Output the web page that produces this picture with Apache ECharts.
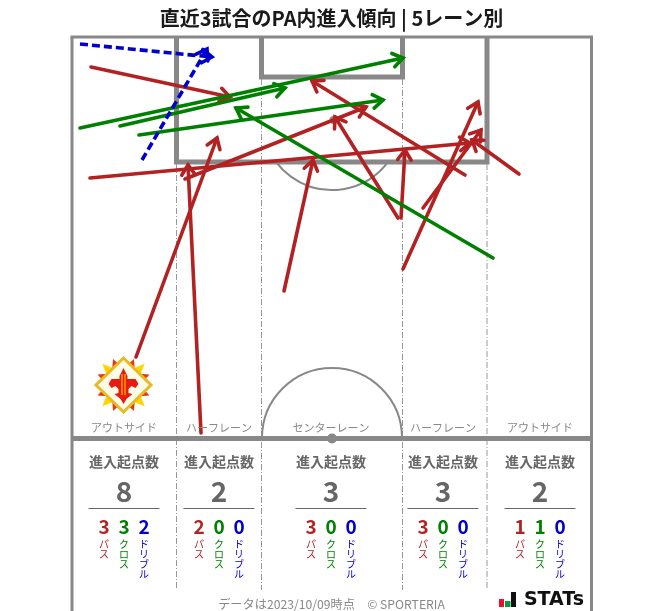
<!DOCTYPE html>
<html><head><meta charset="utf-8">
<style>html,body{margin:0;padding:0;background:#fff}#c{width:663px;height:611px}</style>
<script src="https://cdn.jsdelivr.net/npm/echarts@6/dist/echarts.min.js"></script>
</head><body><div id="c"></div>
<script>
const titleText = '直近3試合のPA内進入傾向 | 5レーン別';
const laneNames = ['アウトサイド','ハーフレーン','センターレーン','ハーフレーン','アウトサイド'];
const laneCentres = [124,219,331,443,540];
const startTotals = [8,2,3,3,2];
const passCounts = [3,2,3,3,1];
const crossCounts = [3,0,0,0,1];
const dribbleCounts = [2,0,0,0,0];
const typeNames = ['パス','クロス','ドリブル'];
// arrows: [startX, startY, endX, endY] on the pitch picture scale
const passArrows = [
 [91,67,230,97],[90,178,470,143],[136,357,217,138],[201,433,188,165],
 [185,179,366,107],[284,291,313,160],[398,218,335,117],[401,218,405,150],
 [403,269,478,102],[423,208,481,130],[519,174,472,140],[465,175,312,81]
];
const crossArrows = [[80,128,403,58],[120,126,285,88],[139,135,383,100],[493,258,236,108]];
const dribbleArrows = [[80,44,212,57],[142,160,207,49]];

const RED='#b22222', GREEN='#008000', BLUE='#0000cd', GREY='#888888', TXT='#666666';

function arrowSeries(data,color,dash){
  return {
    type:'custom', coordinateSystem:'cartesian2d', data:data, silent:true, clip:false,
    encode:{x:[0,2],y:[1,3]},
    renderItem(params,api){
      const a=api.coord([api.value(0),api.value(1)]);
      const b=api.coord([api.value(2),api.value(3)]);
      const ang=Math.atan2(b[1]-a[1],b[0]-a[0]);
      const L=12, W=0.6;
      const p1=[b[0]-L*Math.cos(ang-W),b[1]-L*Math.sin(ang-W)];
      const p2=[b[0]-L*Math.cos(ang+W),b[1]-L*Math.sin(ang+W)];
      return {type:'group',children:[
        {type:'line',shape:{x1:a[0],y1:a[1],x2:b[0],y2:b[1]},
         style:{stroke:color,lineWidth:3.6,lineCap:dash?'butt':'round',lineDash:dash||null}},
        {type:'polyline',shape:{points:[p1,b,p2]},
         style:{stroke:color,lineWidth:3.6,fill:null,lineCap:'round',lineJoin:'miter'}}
      ]};
    }
  };
}

const g=[];
const line=(x1,y1,x2,y2,w,c,dash)=>g.push({type:'line',z:1,shape:{x1,y1,x2,y2},style:{stroke:c||GREY,lineWidth:w,lineDash:dash||null}});
const text=(t,x,y,font,fill,extra)=>g.push({type:'text',z:3,style:Object.assign({text:t,x,y,font,fill,align:'center',verticalAlign:'middle'},extra||{})});
const JP='"Noto Sans CJK JP"';

// pitch frame
line(72,611,72,37,3); line(591.5,611,591.5,37,3); line(70.5,37,593,37,3);
// penalty area & goal area
g.push({type:'polyline',z:1,shape:{points:[[176.5,37],[176.5,162],[487,162],[487,37]]},style:{stroke:GREY,lineWidth:5,fill:null}});
g.push({type:'polyline',z:1,shape:{points:[[261.5,37],[261.5,77],[402.5,77],[402.5,37]]},style:{stroke:GREY,lineWidth:5,fill:null}});
// lane separators
[[176.5,164],[261.5,79],[402.5,79],[487,164]].forEach(p=>line(p[0],p[1],p[0],590,1,'#999999',[6,2,1,2]));
// arcs, halfway, spots
g.push({type:'arc',z:1,shape:{cx:332,cy:438,r:70,startAngle:Math.PI,endAngle:2*Math.PI},style:{stroke:GREY,lineWidth:2,fill:null}});
g.push({type:'arc',z:1,shape:{cx:332,cy:120,r:70,startAngle:Math.PI*0.2,endAngle:Math.PI*0.8},style:{stroke:GREY,lineWidth:2,fill:null}});
line(72,438.5,591,438.5,5);
g.push({type:'circle',z:2,shape:{cx:332,cy:438.5,r:5},style:{fill:GREY}});
g.push({type:'circle',z:2,shape:{cx:333.5,cy:120,r:4},style:{fill:GREY}});

// lane panels
laneCentres.forEach((cx,i)=>{
  text(laneNames[i],cx,428,'11px '+JP,'#888888');
  text('進入起点数',cx,462,'bold 14px '+JP,TXT);
  text(String(startTotals[i]),cx,491.5,'bold 28px '+JP,TXT);
  line(cx-35.5,508.5,cx+35.5,508.5,1,TXT);
  const vals=[passCounts[i],crossCounts[i],dribbleCounts[i]];
  const cols=[RED,GREEN,BLUE];
  vals.forEach((v,k)=>{
    const x=cx+(k-1)*20;
    text(String(v),x,527,'bold 19px '+JP,cols[k]);
    text(typeNames[k].split('').join('\n'),x,539,'10px '+JP,cols[k],{verticalAlign:'top',lineHeight:10});
  });
});

// footer
text('データは2023/10/09時点　© SPORTERIA',331.5,604,'12.2px '+JP,'#888888');
g.push({type:'rect',z:3,shape:{x:499,y:599,width:5,height:8},style:{fill:'#e8112d'}});
g.push({type:'rect',z:3,shape:{x:505,y:601,width:5.5,height:6},style:{fill:'#00a040'}});
g.push({type:'rect',z:3,shape:{x:511,y:592,width:5,height:15},style:{fill:'#111111'}});
text('STATs',554,600,'bold 19px "DejaVu Sans"','#111111');

// emblem
(function(){
  const cx=123.5,cy=385;
  const spike=(deg,R,col)=>{
    const a=deg*Math.PI/180,d=0.36,r=17;
    g.push({type:'polygon',z:4,shape:{points:[
      [cx+r*Math.cos(a-d),cy+r*Math.sin(a-d)],
      [cx+R*Math.cos(a),cy+R*Math.sin(a)],
      [cx+r*Math.cos(a+d),cy+r*Math.sin(a+d)]]},style:{fill:col}});
  };
  [45,135,225,315].forEach(d=>spike(d,30,'#ffd500'));
  [22,68,112,158,202,248,292,338].forEach(d=>spike(d,28,'#e8380d'));
  [5,85,95,175,185,265,275,355].forEach(d=>spike(d,27,'#ffc400'));
  g.push({type:'polygon',z:5,shape:{points:[[cx,cy-27],[cx+27.5,cy],[cx,cy+27],[cx-27.5,cy]]},style:{fill:'#fffde8',stroke:'#e8b923',lineWidth:3}});
  const body=[[0,-17],[4,-9],[4,-6],[12,-6],[15,-1],[12,3],[8,1],[5,4],[5,8],[9,9],[3,14],[0,19],[-3,14],[-9,9],[-5,8],[-5,4],[-8,1],[-12,3],[-15,-1],[-12,-6],[-4,-6],[-4,-9]];
  g.push({type:'polygon',z:6,shape:{points:body.map(p=>[cx+p[0],cy+p[1]])},style:{fill:'#e51c12'}});
  g.push({type:'rect',z:7,shape:{x:cx-2,y:cy-11,width:1,height:21},style:{fill:'#ffd500'}});
  g.push({type:'rect',z:7,shape:{x:cx+1,y:cy-11,width:1,height:21},style:{fill:'#ffd500'}});
})();

const chart=echarts.init(document.getElementById('c'),null,{renderer:'canvas'});
chart.setOption({
  animation:false,
  backgroundColor:'#fff',
  title:{text:titleText,left:'center',top:3,textStyle:{fontFamily:JP,fontSize:20,fontWeight:'bold',color:'#1a1a1a'}},
  grid:{left:0,right:0,top:0,bottom:0},
  xAxis:{type:'value',min:0,max:663,show:false},
  yAxis:{type:'value',min:0,max:611,inverse:true,show:false},
  graphic:{elements:g},
  series:[arrowSeries(passArrows,RED),arrowSeries(crossArrows,GREEN),arrowSeries(dribbleArrows,BLUE,[8,4])]
});
</script></body></html>
